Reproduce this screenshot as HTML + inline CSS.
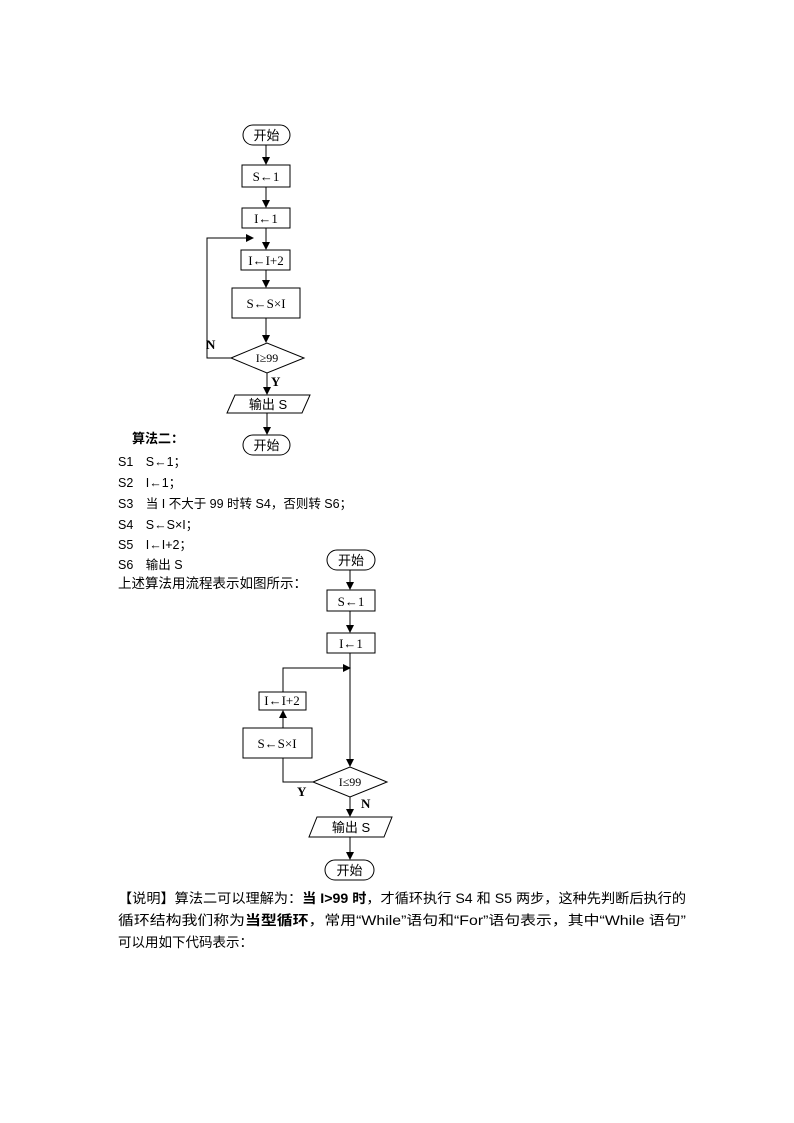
<!DOCTYPE html>
<html><head><meta charset="utf-8"><style>
html,body{margin:0;padding:0;background:#fff;}
svg{display:block;}
text{font-family:"Liberation Serif","Noto Sans CJK SC",serif;fill:#000;}
.s{font-family:"Liberation Sans","Noto Sans CJK SC",sans-serif;}
</style></head><body>
<svg width="794" height="1123" viewBox="0 0 794 1123" xmlns="http://www.w3.org/2000/svg">
<defs><marker id="a" markerWidth="8" markerHeight="8" refX="7" refY="4" orient="auto" markerUnits="userSpaceOnUse"><path d="M0,0 L8,4 L0,8 z" fill="#000"/></marker></defs>
<g fill="none" stroke="#000" stroke-width="1">
<!-- chart 1 -->
<rect x="243" y="125" width="47" height="20" rx="10"/>
<line x1="266" y1="145" x2="266" y2="164" marker-end="url(#a)"/>
<rect x="242" y="165" width="48" height="22"/>
<line x1="266" y1="187" x2="266" y2="207" marker-end="url(#a)"/>
<rect x="242" y="208" width="48" height="20"/>
<line x1="266" y1="228" x2="266" y2="249" marker-end="url(#a)"/>
<rect x="241" y="250" width="49" height="20"/>
<line x1="266" y1="270" x2="266" y2="287" marker-end="url(#a)"/>
<rect x="232" y="288" width="68" height="30"/>
<line x1="266" y1="318" x2="266" y2="342" marker-end="url(#a)"/>
<polygon points="231,358 267,343 304,358 267,373"/>
<polyline points="231,358 207,358 207,238 253,238" marker-end="url(#a)"/>
<line x1="267" y1="373" x2="267" y2="394" marker-end="url(#a)"/>
<polygon points="235,395 310,395 302,413 227,413"/>
<line x1="267" y1="413" x2="267" y2="434" marker-end="url(#a)"/>
<rect x="243" y="435" width="47" height="20" rx="10"/>
<!-- chart 2 -->
<rect x="327" y="550" width="48" height="20" rx="10"/>
<line x1="350" y1="570" x2="350" y2="589" marker-end="url(#a)"/>
<rect x="327" y="590" width="48" height="21"/>
<line x1="350" y1="611" x2="350" y2="632" marker-end="url(#a)"/>
<rect x="327" y="633" width="48" height="20"/>
<line x1="350" y1="653" x2="350" y2="766" marker-end="url(#a)"/>
<polyline points="283,692 283,668 350,668" marker-end="url(#a)"/>
<rect x="259" y="692" width="47" height="18"/>
<line x1="283" y1="728" x2="283" y2="711" marker-end="url(#a)"/>
<rect x="243" y="728" width="69" height="30"/>
<polyline points="283,758 283,782 313,782"/>
<polygon points="313,782 350,767 387,782 350,797"/>
<line x1="350" y1="797" x2="350" y2="816" marker-end="url(#a)"/>
<polygon points="317,817 392,817 384,837 309,837"/>
<line x1="350" y1="837" x2="350" y2="859" marker-end="url(#a)"/>
<rect x="325" y="860" width="49" height="20" rx="10"/>
</g>
<g font-size="13">
<text x="266.5" y="140" text-anchor="middle" class="s">开始</text>
<text x="266" y="181" text-anchor="middle">S←1</text>
<text x="266" y="223" text-anchor="middle">I←1</text>
<text x="266" y="265" text-anchor="middle">I←I+2</text>
<text x="266" y="308" text-anchor="middle">S←S×I</text>
<text x="267" y="362" text-anchor="middle" font-size="12">I≥99</text>
<text x="206" y="349" font-weight="bold">N</text>
<text x="271" y="386" font-weight="bold">Y</text>
<text x="268" y="409" text-anchor="middle" class="s">输出 S</text>
<text x="266.5" y="450" text-anchor="middle" class="s">开始</text>

<text x="351" y="565" text-anchor="middle" class="s">开始</text>
<text x="351" y="606" text-anchor="middle">S←1</text>
<text x="351" y="648" text-anchor="middle">I←1</text>
<text x="282" y="705" text-anchor="middle">I←I+2</text>
<text x="277" y="748" text-anchor="middle">S←S×I</text>
<text x="350" y="786" text-anchor="middle" font-size="12">I≤99</text>
<text x="297" y="796" font-weight="bold">Y</text>
<text x="361" y="808" font-weight="bold">N</text>
<text x="351" y="832" text-anchor="middle" class="s">输出 S</text>
<text x="349.5" y="875" text-anchor="middle" class="s">开始</text>
</g>
<g font-size="12.5" class="s">
<text x="132" y="443" font-weight="bold" class="s" font-size="13">算法二：</text>
<text x="118" y="466" class="s">S1　S←1；</text>
<text x="118" y="487" class="s">S2　I←1；</text>
<text x="118" y="508" class="s">S3　当 I 不大于 99 时转 S4，否则转 S6；</text>
<text x="118" y="529" class="s">S4　S←S×I；</text>
<text x="118" y="549" class="s">S5　I←I+2；</text>
<text x="118" y="569" class="s">S6　输出 S</text>
<text x="118" y="588" class="s" font-size="13.5">上述算法用流程表示如图所示：</text>
</g>
<g font-size="13.5" class="s">
<text x="118" y="903" class="s" textLength="568" lengthAdjust="spacingAndGlyphs">【说明】算法二可以理解为：<tspan font-weight="bold">当 I&gt;99 时</tspan>，才循环执行 S4 和 S5 两步，这种先判断后执行的</text>
<text x="118" y="925" class="s" textLength="568" lengthAdjust="spacingAndGlyphs">循环结构我们称为<tspan font-weight="bold">当型循环</tspan>，常用“While”语句和“For”语句表示，其中“While 语句”</text>
<text x="118" y="947" class="s">可以用如下代码表示：</text>
</g>
</svg>
</body></html>
